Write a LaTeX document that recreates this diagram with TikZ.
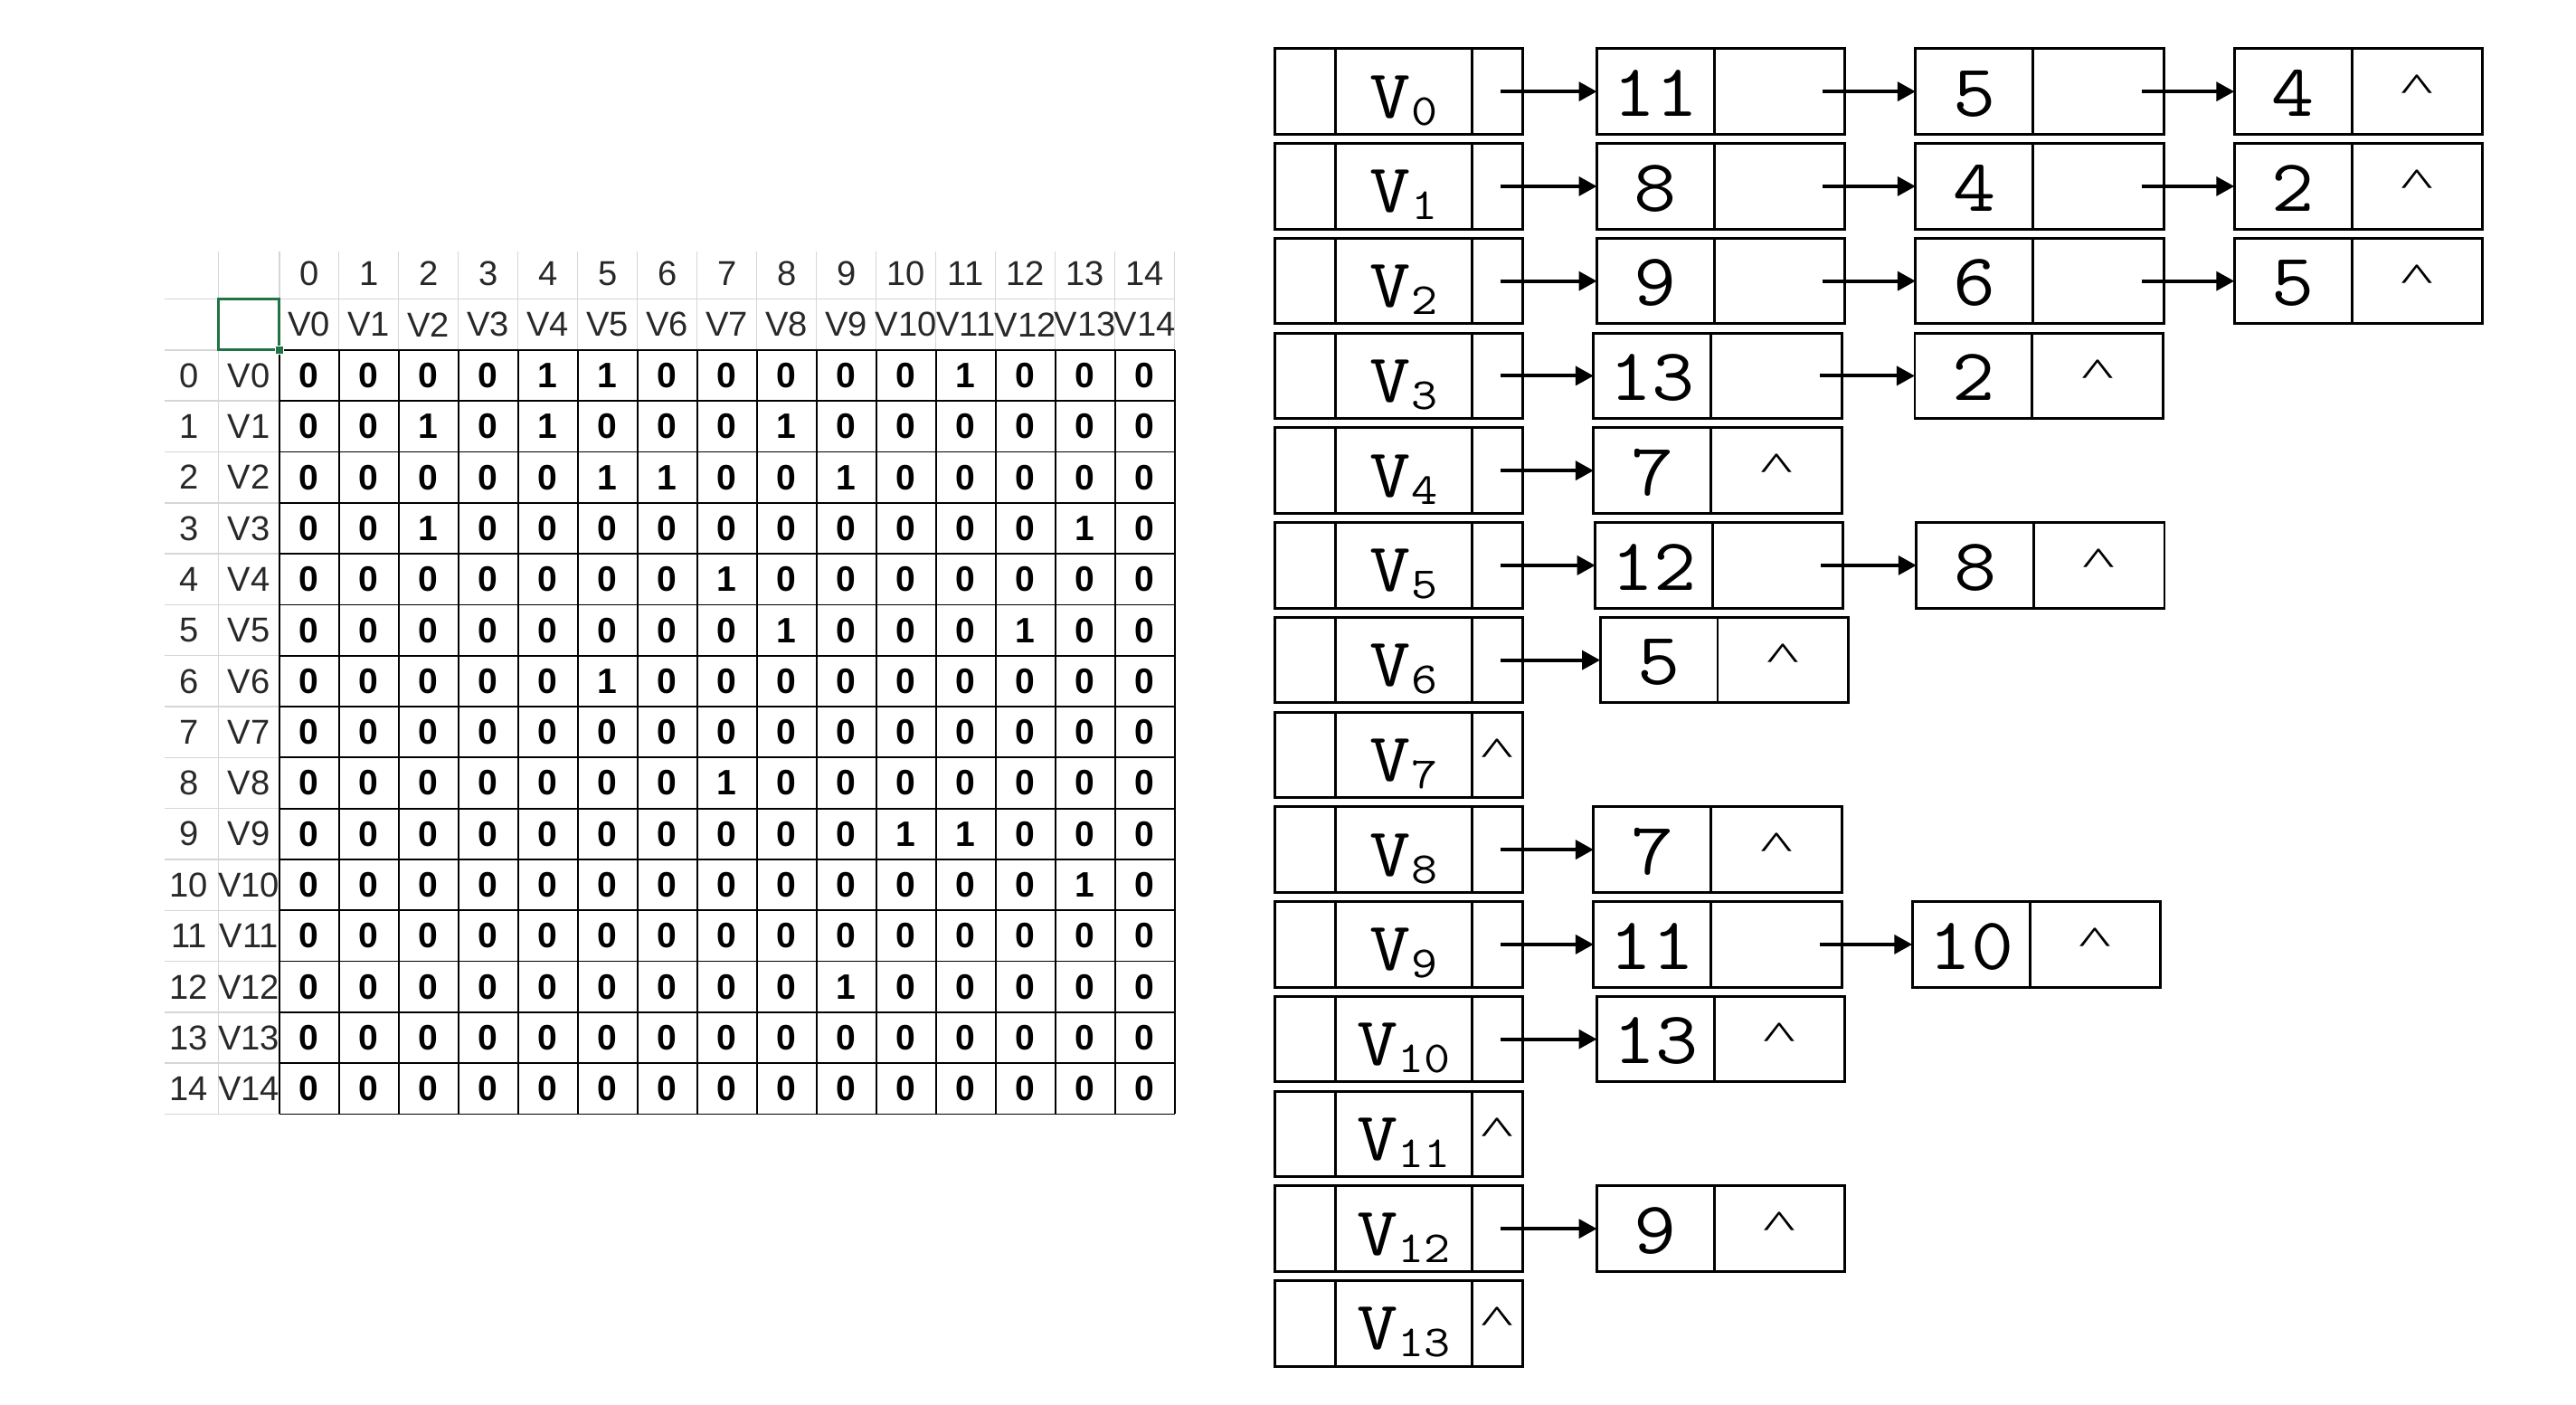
\documentclass[tikz,border=0pt]{standalone}
\usepackage{fontspec}
\newfontfamily\xls{Liberation Sans}
\newfontfamily\lserif{Liberation Serif}
\usetikzlibrary{arrows.meta}
\definecolor{xlgreen}{RGB}{33,115,70}
\definecolor{lightgrey}{RGB}{214,214,214}
\definecolor{hdrtext}{RGB}{40,40,40}
\newcommand{\Vsub}[1]{\scalebox{1.15}[1]{V\raisebox{-4.4pt}{\fontsize{27}{27}\selectfont #1}}}
\newcommand{\Wd}[1]{\scalebox{1.12}[1]{#1}}
\newcommand{\Car}{\scalebox{1.75}[1]{\textasciicircum}}
\newcommand{\Lnode}[5]{%
  \pgfmathsetmacro{\yc}{55.7+57.67*#3}%
  \node[cellbox, minimum width=71.5pt, anchor=west] (#1a) at (#2,\yc) {};
  \node[cellbox, minimum width=79.5pt, anchor=west] (#1b) at (#2+71.5,\yc) {};
  \node[dig, anchor=base] (#1t) at (#2+35.75,\yc+15) {\Wd{#4}};
  \node[car, anchor=north] (#1p) at (#2+111.25,\yc-10) {#5};
}
\begin{document}
\begin{tikzpicture}[x=1pt,y=-1pt,
  cellbox/.style={draw, line width=1.6pt, inner sep=0pt, outer sep=0pt, minimum height=52pt},
  dig/.style={font=\ttfamily\fontsize{45}{45}\selectfont, inner sep=0pt},
  vlab/.style={font=\ttfamily\fontsize{42}{42}\selectfont, inner sep=0pt},
  car/.style={font=\lserif\fontsize{24}{24}\selectfont, inner sep=0pt},
  arr/.style={-{Triangle[length=11pt,width=11.5pt]}, line width=2.2pt},
  hdr/.style={font=\xls\fontsize{21}{21}\selectfont, text=hdrtext, inner sep=0pt},
  val/.style={font=\xls\bfseries\fontsize{21.5}{21.5}\selectfont, inner sep=0pt},
  lightrule/.style={draw=lightgrey, line width=0.8pt},
  gridline/.style={draw=black, line width=1pt},
]
\useasboundingbox[fill=white] (0,0) rectangle (1568,855);

% ---------- spreadsheet ----------
\foreach \c in {0,...,15} \draw[lightrule] ({170+36.333*\c},153) -- ({170+36.333*\c},213);
\draw[lightrule] (100,182) -- (715,182);
\draw[lightrule] (100,213) -- (170,213);
\foreach \k in {1,...,15} \draw[lightrule] (100,{213+31*\k}) -- (170,{213+31*\k});
\draw[lightrule] (133,153) -- (133,678);

\foreach \c in {0,...,15} \draw[gridline] ({170+36.333*\c},213) -- ({170+36.333*\c},678);
\foreach \k in {0,...,15} \draw[gridline] (170,{213+31*\k}) -- (715,{213+31*\k});

\foreach \c in {0,...,14} {
  \node[hdr] (cn\c) at ({170+36.333*(\c+0.5)},166.5) {\c};
  \node[hdr] (cv\c) at ({170+36.333*(\c+0.5)},197.5) {V\c};
}
\foreach \r in {0,...,14} {
  \node[hdr] (rn\r) at (115,{213+31*(\r+0.5)}) {\r};
  \node[hdr] (rv\r) at (151.5,{213+31*(\r+0.5)}) {V\r};
}
\foreach \rowvals [count=\r from 0] in {
  {0,0,0,0,1,1,0,0,0,0,0,1,0,0,0},
  {0,0,1,0,1,0,0,0,1,0,0,0,0,0,0},
  {0,0,0,0,0,1,1,0,0,1,0,0,0,0,0},
  {0,0,1,0,0,0,0,0,0,0,0,0,0,1,0},
  {0,0,0,0,0,0,0,1,0,0,0,0,0,0,0},
  {0,0,0,0,0,0,0,0,1,0,0,0,1,0,0},
  {0,0,0,0,0,1,0,0,0,0,0,0,0,0,0},
  {0,0,0,0,0,0,0,0,0,0,0,0,0,0,0},
  {0,0,0,0,0,0,0,1,0,0,0,0,0,0,0},
  {0,0,0,0,0,0,0,0,0,0,1,1,0,0,0},
  {0,0,0,0,0,0,0,0,0,0,0,0,0,1,0},
  {0,0,0,0,0,0,0,0,0,0,0,0,0,0,0},
  {0,0,0,0,0,0,0,0,0,1,0,0,0,0,0},
  {0,0,0,0,0,0,0,0,0,0,0,0,0,0,0},
  {0,0,0,0,0,0,0,0,0,0,0,0,0,0,0}} {
  \foreach \v [count=\c from 0] in \rowvals {
    \node[val] (m\r-\c) at ({170+36.333*(\c+0.5)},{213+31*(\r+0.5)}) {\v};
  }
}
\draw[xlgreen, line width=1.6pt] (133,182) rectangle (170,213);
\fill[xlgreen, draw=white, line width=0.8pt] (167.5,210.5) rectangle (172.5,215.5);

% ---------- adjacency list ----------
\foreach \r in {0,...,13} {
  \pgfmathsetmacro{\yc}{55.7+57.67*\r}
  \node[cellbox, minimum width=37pt, anchor=west] (ha\r) at (776,\yc) {};
  \node[cellbox, minimum width=83pt, anchor=west] (hb\r) at (813,\yc) {};
  \node[cellbox, minimum width=31pt, anchor=west] (hc\r) at (896,\yc) {};
  \node[vlab, anchor=base] (hl\r) at (854.5,\yc+16) {\Vsub{\r}};
}
\node[car, anchor=north] (hk7) at (911.5,449.4) {\Car};
\node[car, anchor=north] (hk11) at (911.5,680.1) {\Car};
\node[car, anchor=north] (hk13) at (911.5,795.4) {\Car};

\Lnode{r0n1}{972}{0}{11}{}
\Lnode{r0n2}{1166}{0}{5}{}
\Lnode{r0n3}{1360}{0}{4}{\Car}
\Lnode{r1n1}{972}{1}{8}{}
\Lnode{r1n2}{1166}{1}{4}{}
\Lnode{r1n3}{1360}{1}{2}{\Car}
\Lnode{r2n1}{972}{2}{9}{}
\Lnode{r2n2}{1166}{2}{6}{}
\Lnode{r2n3}{1360}{2}{5}{\Car}
\Lnode{r3n1}{970}{3}{13}{}
\Lnode{r3n2}{1165.5}{3}{2}{\Car}
\Lnode{r4n1}{970}{4}{7}{\Car}
\Lnode{r5n1}{971}{5}{12}{}
\Lnode{r5n2}{1166.5}{5}{8}{\Car}
\Lnode{r6n1}{974}{6}{5}{\Car}
\Lnode{r8n1}{970}{8}{7}{\Car}
\Lnode{r9n1}{970}{9}{11}{}
\Lnode{r9n2}{1164}{9}{10}{\Car}
\Lnode{r10n1}{972}{10}{13}{\Car}
\Lnode{r12n1}{972}{12}{9}{\Car}

\foreach \r in {0,1,2,3,4,5,6,8,9,10,12}
  \draw[arr] ([xshift=-13.5pt]hc\r.east) -- (r\r n1a.west);
\foreach \r in {0,1,2,3,5,9}
  \draw[arr] ([xshift=-13.5pt]r\r n1b.east) -- (r\r n2a.west);
\foreach \r in {0,1,2}
  \draw[arr] ([xshift=-13.5pt]r\r n2b.east) -- (r\r n3a.west);
\end{tikzpicture}
\end{document}
